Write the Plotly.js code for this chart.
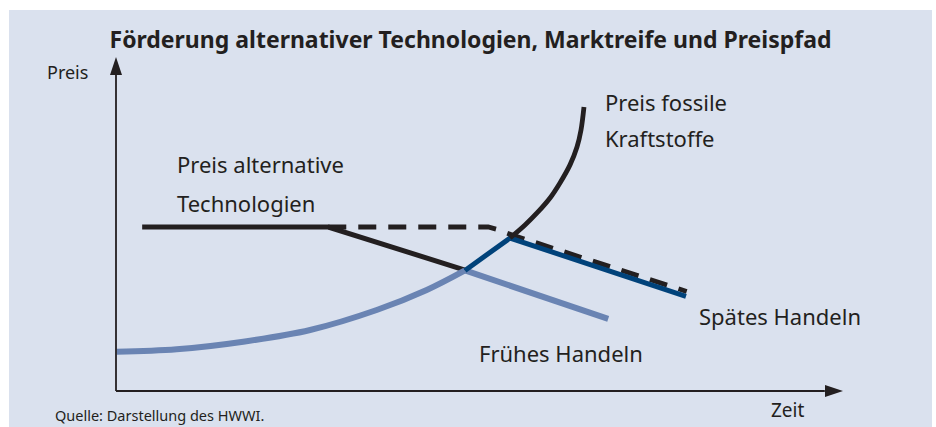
<!DOCTYPE html>
<html>
<head>
<meta charset="utf-8">
<script src="https://cdn.plot.ly/plotly-3.0.1.min.js"></script>
<style>
  html, body { margin: 0; padding: 0; background: #ffffff; width: 936px; height: 427px; overflow: hidden; }
  #chart { position: absolute; left: 9px; top: 10px; width: 923px; height: 417px; }
</style>
</head>
<body>
<div id="chart"></div>
<script>
// ---- Data (abstract units: time 0..100, price 0..100) ----
const altTechX = [3.6, 29.2, 48.0];
const altTechY = [49.1, 49.1, 36.2];

const altTechLateX = [29.2, 51.2, 52.4, 54.5, 78.5];
const altTechLateY = [49.1, 49.1, 48.4, 46.7, 29.8];

const commonCurveX = [0.1, 8.35, 17.5, 26.7, 35.86, 42.74, 48.0];
const commonCurveY = [11.77, 12.49, 14.76, 18.26, 24.25, 30.24, 36.1];

const earlyX = [48.0, 67.7];
const earlyY = [36.1, 21.6];

const lateX = [48.0, 54.2, 78.4];
const lateY = [36.1, 45.8, 28.3];

const fossilX = [54.2, 56.26, 57.91, 59.7, 61.07, 62.45, 63.41, 63.96, 64.37];
const fossilY = [45.8, 49.7, 53.3, 57.8, 62.3, 67.7, 73.05, 78.1, 85.0];

const labels = {
  title: "Förderung alternativer Technologien, Marktreife und Preispfad",
  yLabel: "Preis",
  xLabel: "Zeit",
  alt1: "Preis alternative",
  alt2: "Technologien",
  fos1: "Preis fossile",
  fos2: "Kraftstoffe",
  late: "Spätes Handeln",
  early: "Frühes Handeln",
  source: "Quelle: Darstellung des HWWI."
};

const BLACK = "#231f20";
const DARKBLUE = "#00427a";
const LIGHTBLUE = "#6a84b3";
const BG = "#dae1ee";
const FONT = "Noto Sans, sans-serif";

const traces = [
  { x: altTechX, y: altTechY, mode: "lines", line: { color: BLACK, width: 5 }, hoverinfo: "skip" },
  { x: altTechLateX, y: altTechLateY, mode: "lines", line: { color: BLACK, width: 4.8, dash: "18px,12px" }, hoverinfo: "skip" },
  { x: commonCurveX, y: commonCurveY, mode: "lines", line: { color: LIGHTBLUE, width: 6, shape: "spline" }, hoverinfo: "skip" },
  { x: earlyX, y: earlyY, mode: "lines", line: { color: LIGHTBLUE, width: 6 }, hoverinfo: "skip" },
  { x: lateX, y: lateY, mode: "lines", line: { color: DARKBLUE, width: 5 }, hoverinfo: "skip" },
  { x: fossilX, y: fossilY, mode: "lines", line: { color: BLACK, width: 4.8, shape: "spline" }, hoverinfo: "skip" }
];

// positions in paper units (0..1 spans the axes area)
function txt(x, y, text, size) {
  return { x: x, y: y, xref: "paper", yref: "paper", text: text, showarrow: false,
    xanchor: "left", yanchor: "middle", font: { family: FONT, size: size, color: BLACK } };
}

const annotations = [
  txt(-0.097, 0.955, labels.yLabel, 18),
  txt(0.898, -0.057, labels.xLabel, 19),
  txt(0.081, 0.6796, labels.alt1, 22),
  txt(0.081, 0.563, labels.alt2, 22),
  txt(0.670, 0.865, labels.fos1, 22),
  txt(0.670, 0.7575, labels.fos2, 22),
  txt(0.799, 0.2246, labels.late, 22),
  txt(0.497, 0.1138, labels.early, 22),
  txt(-0.086, -0.0719, labels.source, 14.5)
];

const shapes = [
  // y axis line
  { type: "line", xref: "paper", yref: "paper", x0: 0, y0: 0, x1: 0, y1: 0.95, line: { color: BLACK, width: 1.8 } },
  // x axis line
  { type: "line", xref: "paper", yref: "paper", x0: 0, y0: 0, x1: 0.975, y1: 0, line: { color: BLACK, width: 1.8 } },
  // y arrow head
  { type: "path", xref: "paper", yref: "paper", xsizemode: "pixel", ysizemode: "pixel", xanchor: 0, yanchor: 1,
    path: "M0,0 L-6,-18 L6,-18 Z", fillcolor: BLACK, line: { width: 0 } },
  // x arrow head
  { type: "path", xref: "paper", yref: "paper", xsizemode: "pixel", ysizemode: "pixel", xanchor: 1, yanchor: 0,
    path: "M0,0 L-18,6 L-18,-6 Z", fillcolor: BLACK, line: { width: 0 } }
];

const layout = {
  width: 923, height: 417,
  margin: { l: 107, r: 89, t: 47, b: 36 },
  paper_bgcolor: BG, plot_bgcolor: "rgba(0,0,0,0)",
  showlegend: false,
  title: { text: "<b>" + labels.title + "</b>", x: 0.5, xref: "container", xanchor: "center",
    y: 0.928, yref: "container", yanchor: "middle",
    font: { family: FONT, size: 23, color: BLACK } },
  xaxis: { range: [0, 100], visible: false, fixedrange: true },
  yaxis: { range: [0, 100], visible: false, fixedrange: true },
  annotations: annotations,
  shapes: shapes
};

Plotly.newPlot("chart", traces, layout, { displayModeBar: false, staticPlot: true });
</script>
</body>
</html>
